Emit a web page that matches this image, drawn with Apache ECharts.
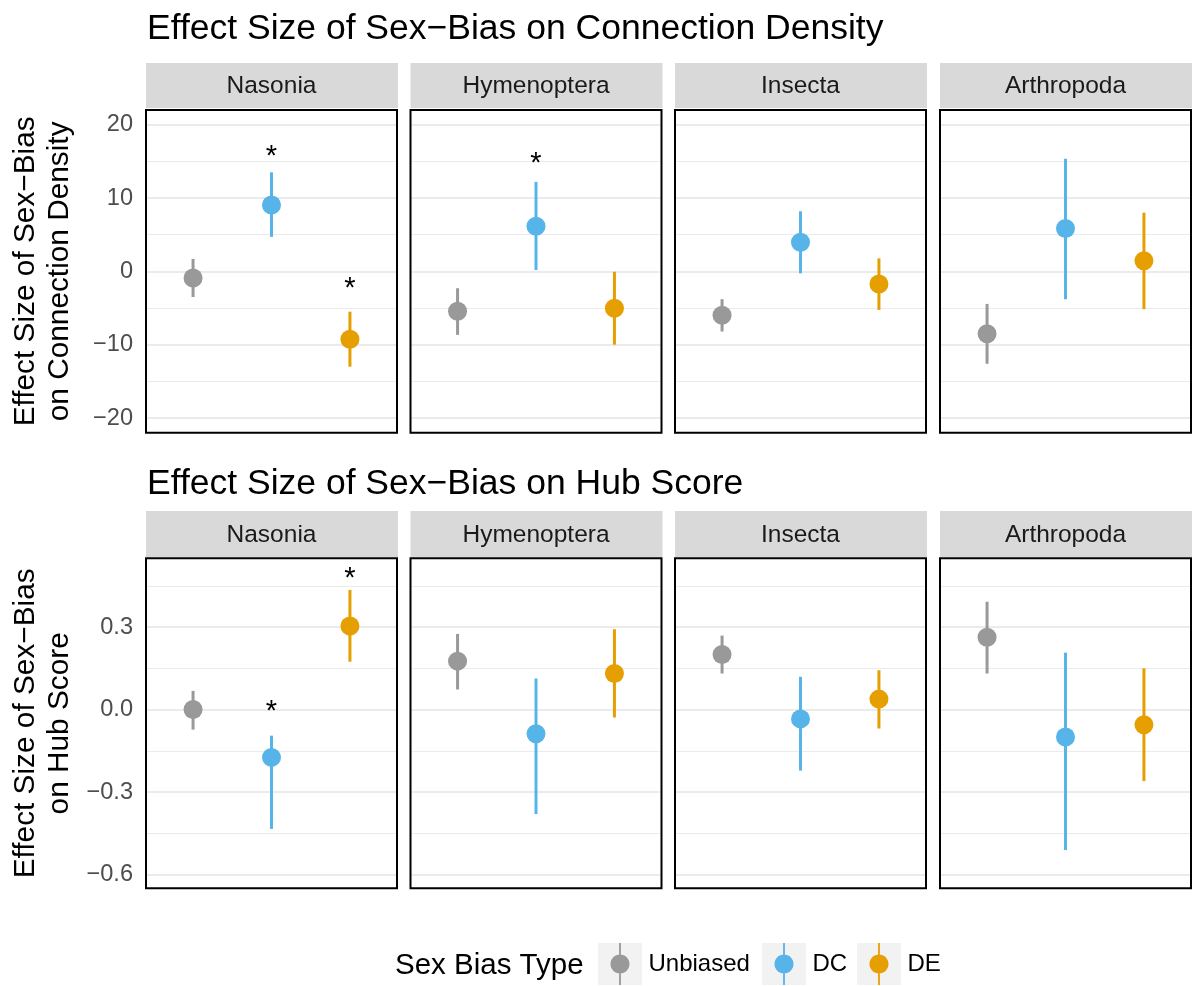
<!DOCTYPE html>
<html><head><meta charset="utf-8">
<script src="https://cdn.jsdelivr.net/npm/echarts@6/dist/echarts.min.js"></script>
<style>html,body{margin:0;padding:0;background:#fff}#c{width:1192px;height:986px}</style>
</head><body><div id="c"></div>
<script>
// ---------- data ----------
const taxa = ['Nasonia', 'Hymenoptera', 'Insecta', 'Arthropoda'];
const biasTypes = ['Unbiased', 'DC', 'DE'];
const plotTitles = ['Effect Size of Sex\u2212Bias on Connection Density', 'Effect Size of Sex\u2212Bias on Hub Score'];
const axisTitles = ['Effect Size of Sex\u2212Bias\non Connection Density', 'Effect Size of Sex\u2212Bias\non Hub Score'];
const legendTitle = 'Sex Bias Type';

// Connection density: estimates and interval bounds, one value per taxon
const cdUnbiasedEst = [-0.9, -5.43, -5.98, -8.52];
const cdUnbiasedLo  = [-3.5, -8.66, -8.2, -12.6];
const cdUnbiasedHi  = [1.7, -2.3, -3.8, -4.44];
const cdDCEst = [9.05, 6.15, 3.98, 5.84];
const cdDCLo  = [4.7, 0.18, -0.27, -3.8];
const cdDCHi  = [13.5, 12.2, 8.2, 15.35];
const cdDEEst = [-9.25, -5.03, -1.73, 1.44];
const cdDELo  = [-13.0, -10.0, -5.26, -5.16];
const cdDEHi  = [-5.5, -0.05, 1.77, 8.0];
const cdSig = [['Nasonia', 'DC', 16.25], ['Nasonia', 'DE', -1.7], ['Hymenoptera', 'DC', 15.3]];
const cdTicks = [-20, -10, 0, 10, 20];
const cdMinor = [-15, -5, 5, 15];

// Hub score
const hubUnbiasedEst = [0.0, 0.176, 0.2, 0.263];
const hubUnbiasedLo  = [-0.073, 0.073, 0.131, 0.131];
const hubUnbiasedHi  = [0.068, 0.275, 0.269, 0.392];
const hubDCEst = [-0.174, -0.088, -0.034, -0.1];
const hubDCLo  = [-0.434, -0.38, -0.222, -0.511];
const hubDCHi  = [-0.095, 0.113, 0.119, 0.207];
const hubDEEst = [0.304, 0.131, 0.038, -0.055];
const hubDELo  = [0.174, -0.029, -0.069, -0.26];
const hubDEHi  = [0.435, 0.292, 0.143, 0.15];
const hubSig = [['Nasonia', 'DC', 0.01], ['Nasonia', 'DE', 0.494]];
const hubTicks = [-0.6, -0.3, 0.0, 0.3];
const hubMinor = [-0.45, -0.15, 0.15, 0.45];

// ---------- styling / layout ----------
const FONT = '"Liberation Sans", Arial, Helvetica, sans-serif';
const colors = { Unbiased: '#999999', DC: '#56B4E9', DE: '#E69F00' };
const panelLeft = [146, 410.5, 675, 940];
const panelW = 251;
const rows = [
  { top: 110, height: 322.7, stripTop: 63, stripH: 45, min: -22, max: 22, interval: 2, decimals: 0,
    ticks: cdTicks, minor: cdMinor, sig: cdSig, titleTop: 11,
    est: { Unbiased: cdUnbiasedEst, DC: cdDCEst, DE: cdDEEst },
    lo:  { Unbiased: cdUnbiasedLo,  DC: cdDCLo,  DE: cdDELo },
    hi:  { Unbiased: cdUnbiasedHi,  DC: cdDCHi,  DE: cdDEHi } },
  { top: 558.3, height: 330, stripTop: 511, stripH: 46, min: -0.65, max: 0.55, interval: 0.05, decimals: 1,
    ticks: hubTicks, minor: hubMinor, sig: hubSig, titleTop: 466,
    est: { Unbiased: hubUnbiasedEst, DC: hubDCEst, DE: hubDEEst },
    lo:  { Unbiased: hubUnbiasedLo,  DC: hubDCLo,  DE: hubDELo },
    hi:  { Unbiased: hubUnbiasedHi,  DC: hubDCHi,  DE: hubDEHi } }
];

function fmt(v, d) {
  const s = Math.abs(v).toFixed(d);
  return (v < -1e-9 ? '\u2212' : '') + s;
}

const grid = [], xAxis = [], yAxis = [], series = [], graphic = [], title = [];

rows.forEach((row, r) => {
  title.push({
    text: plotTitles[r], left: 147, top: row.titleTop, padding: 0,
    textStyle: { fontSize: 35.5, fontWeight: 'normal', color: '#000', fontFamily: FONT }
  });
  taxa.forEach((taxon, c) => {
    const gi = r * 4 + c;
    grid.push({ left: panelLeft[c], top: row.top, width: panelW, height: row.height, show: false });
    xAxis.push({ type: 'value', gridIndex: gi, min: 0.4, max: 3.6, show: false });
    yAxis.push({
      type: 'value', gridIndex: gi, min: row.min, max: row.max, interval: row.interval,
      axisLine: { show: false }, axisTick: { show: false }, splitLine: { show: false },
      axisLabel: {
        show: c === 0, margin: 13, fontSize: 23.6, color: '#4d4d4d', fontFamily: FONT,
        formatter: (v) => {
          const hit = row.ticks.find(t => Math.abs(t - v) < row.interval / 10);
          return hit === undefined ? '' : fmt(hit, row.decimals);
        }
      },
      name: c === 0 ? axisTitles[r] : '',
      nameLocation: 'middle', nameRotate: 90, nameGap: 69,
      nameTextStyle: { fontSize: 29.8, color: '#000', fontFamily: FONT, lineHeight: 34, align: 'center' }
    });
    // gridlines
    series.push({
      type: 'scatter', name: 'grid', xAxisIndex: gi, yAxisIndex: gi, data: [], silent: true, z: 1,
      markLine: {
        silent: true, symbol: ['none', 'none'], label: { show: false }, animation: false, z: 1,
        emphasis: { disabled: true },
        data: row.ticks.map(v => ({ yAxis: v, lineStyle: { color: '#ebebeb', width: 2, type: 'solid' } }))
          .concat(row.minor.map(v => ({ yAxis: v, lineStyle: { color: '#ebebeb', width: 1, type: 'solid' } })))
      }
    });
    // points with intervals
    biasTypes.forEach((bt, k) => {
      series.push({
        type: 'custom', name: bt, xAxisIndex: gi, yAxisIndex: gi, z: 3,
        itemStyle: { color: colors[bt] },
        data: [[k + 1, row.est[bt][c], row.lo[bt][c], row.hi[bt][c]]],
        encode: { x: 0, y: [1, 2, 3] },
        renderItem: (params, api) => {
          const x = api.value(0);
          const p = api.coord([x, api.value(1)]);
          const lo = api.coord([x, api.value(2)]);
          const hi = api.coord([x, api.value(3)]);
          return { type: 'group', children: [
            { type: 'line', shape: { x1: lo[0], y1: lo[1], x2: hi[0], y2: hi[1] }, style: { stroke: colors[bt], lineWidth: 3 } },
            { type: 'circle', shape: { cx: p[0], cy: p[1], r: 9.5 }, style: { fill: colors[bt] } }
          ] };
        }
      });
    });
    // significance asterisks
    const sigHere = row.sig.filter(s => s[0] === taxon).map(s => [biasTypes.indexOf(s[1]) + 1, s[2]]);
    if (sigHere.length) {
      series.push({
        type: 'custom', name: 'sig', xAxisIndex: gi, yAxisIndex: gi, z: 4, data: sigHere,
        encode: { x: 0, y: 1 },
        renderItem: (params, api) => {
          const p = api.coord([api.value(0), api.value(1)]);
          return { type: 'text', style: { text: '*', x: p[0], y: p[1] + 5, align: 'center', verticalAlign: 'middle',
            fontSize: 29, fontFamily: FONT, fill: '#000' } };
        }
      });
    }
    // strip
    graphic.push({ type: 'rect', z: 1, shape: { x: panelLeft[c], y: row.stripTop, width: panelW + 1, height: row.stripH },
      style: { fill: '#d9d9d9' } });
    graphic.push({ type: 'text', z: 2, style: { text: taxon, x: panelLeft[c] + panelW / 2, y: row.stripTop + row.stripH / 2 + 1,
      align: 'center', verticalAlign: 'middle', fontSize: 24.5, fontFamily: FONT, fill: '#1a1a1a' } });
    // panel border
    graphic.push({ type: 'rect', z: 50, silent: true, shape: { x: panelLeft[c], y: row.top, width: panelW, height: row.height },
      style: { fill: 'none', stroke: '#000', lineWidth: 2 } });
  });
});

// legend
const keyBoxLeft = [598, 762, 857];
const keyW = 44, keyH = 42, keyTop = 943;
const iconPath = 'path://M8.6,0 H10.4 V42 H8.6 Z ' +
  'M0,21 C0,15.753 4.253,11.5 9.5,11.5 C14.747,11.5 19,15.753 19,21 C19,26.247 14.747,30.5 9.5,30.5 C4.253,30.5 0,26.247 0,21 Z';
graphic.push({ type: 'text', z: 2, style: { text: legendTitle, x: 395, y: keyTop + keyH / 2 + 2, align: 'left', verticalAlign: 'middle',
  fontSize: 29.5, fontFamily: FONT, fill: '#000' } });
keyBoxLeft.forEach(x => graphic.push({ type: 'rect', z: 0, shape: { x: x, y: keyTop, width: keyW, height: keyH }, style: { fill: '#f2f2f2' } }));
const legend = biasTypes.map((bt, i) => ({
  data: [bt], left: keyBoxLeft[i] + keyW / 2 - 9.5, top: keyTop, padding: 0, itemWidth: 19, itemHeight: 42,
  icon: iconPath, selectedMode: false, z: 10,
  textStyle: { fontSize: 24, color: '#000', fontFamily: FONT, padding: [2, 0, 0, 14] }
}));

const chart = echarts.init(document.getElementById('c'), null, { renderer: 'canvas' });
chart.setOption({
  animation: false,
  backgroundColor: '#fff',
  title, grid, xAxis, yAxis, series, legend, graphic
});
</script></body></html>
